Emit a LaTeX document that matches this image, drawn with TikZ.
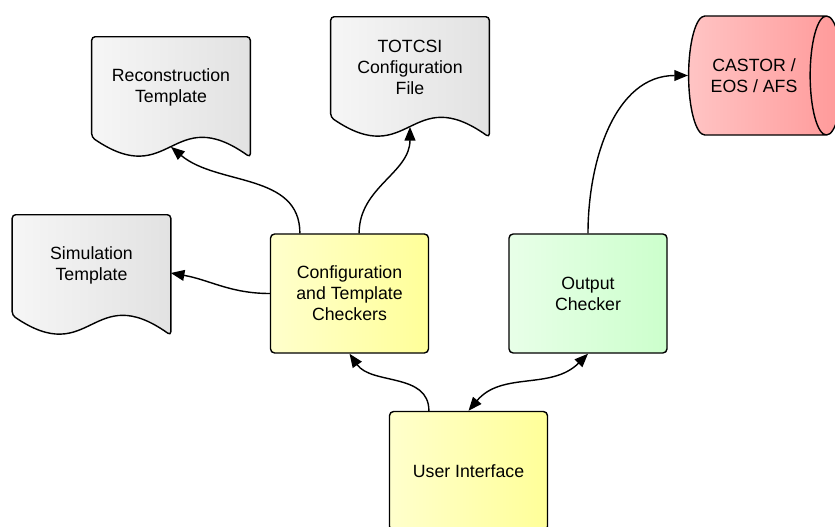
\documentclass[tikz,border=0pt]{standalone}
\usepackage{fontspec}
\setmainfont{Liberation Sans}
\usepackage{tikz}
\usetikzlibrary{arrows.meta,shapes.geometric,backgrounds}
\definecolor{docA}{HTML}{F6F6F6}
\definecolor{docB}{HTML}{E2E2E2}
\definecolor{yelA}{HTML}{FFFFCC}
\definecolor{yelB}{HTML}{FFFF99}
\definecolor{grnA}{HTML}{E8FFE8}
\definecolor{grnB}{HTML}{CCFFCC}
\definecolor{redA}{HTML}{FFC4C4}
\definecolor{redB}{HTML}{FF9999}
\tikzset{
  vdoc/.style={minimum width=3.95cm,minimum height=2.5cm,align=center,inner sep=2pt},
  vdocline/.style={draw=black,line width=1pt,rounded corners=2.5pt,left color=docA,right color=docB},
  vbox/.style={draw=black,line width=1pt,rounded corners=3pt,minimum width=3.95cm,minimum height=2.975cm,align=center,inner sep=2pt},
  vyel/.style={vbox,left color=yelA,right color=yelB},
  vgrn/.style={vbox,left color=grnA,right color=grnB},
  vcyl/.style={cylinder,draw=black,line width=1pt,aspect=0.75,minimum height=3.85cm,minimum width=2.975cm,align=center,left color=redA,right color=redB},
  varr/.style={-{Triangle[length=3.4mm,width=2.7mm]},line width=1pt},
  vdarr/.style={{Triangle[length=3.4mm,width=2.7mm]}-{Triangle[length=3.4mm,width=2.7mm]},line width=1pt}
}
\newcommand{\vdocpath}[1]{\begin{pgfonlayer}{background}
  \draw[vdocline] ([yshift=-0.5cm]#1.south east) .. controls +(-79,-56) and +(79,54) .. (#1.south west) -- (#1.north west) -- (#1.north east) -- cycle;
\end{pgfonlayer}}
\begin{document}
\begin{tikzpicture}[x=0.025cm,y=-0.025cm,font=\fontsize{12.6}{14.9}\selectfont]
  \path[use as bounding box] (0,0) rectangle (835,526);
  \node[vdoc] (rec) at (171,87) {Reconstruction\\Template};
  \node[vdoc] (tot) at (410,67) {TOTCSI\\Configuration\\File};
  \node[vdoc] (sim) at (91.5,265) {Simulation\\Template};
  \vdocpath{rec} \vdocpath{tot} \vdocpath{sim}
  \node[vyel] (cfg) at (349.5,293.5) {Configuration\\and Template\\Checkers};
  \node[vgrn] (out) at (588,293.5) {Output\\Checker};
  \node[vyel] (ui) at (468.5,471) {User Interface};
  \node[vcyl] (cas) at (754,75.5) {CASTOR /\\EOS / AFS};
  \coordinate (rec-in) at ([yshift=-0.24cm]rec.south);
  \coordinate (tot-in) at ([yshift=-0.24cm]tot.south);
  \coordinate (sim-in) at ([yshift=-0.2cm]sim.east);
  \draw[varr] ([xshift=-1.24cm]cfg.north) to[out=90,in=-40] (rec-in);
  \draw[varr] ([xshift=0.24cm]cfg.north) to[out=90,in=-90] (tot-in);
  \draw[varr] (cfg.west) to[out=180,in=-10] (sim-in);
  \draw[varr] ([xshift=-0.99cm]ui.north) to[out=90,in=-55] (cfg.south);
  \draw[vdarr] (ui.north) to[out=50,in=-135] (out.south);
  \draw[varr] (out.north) to[out=90,in=180] (cas.west);
\end{tikzpicture}
\end{document}
